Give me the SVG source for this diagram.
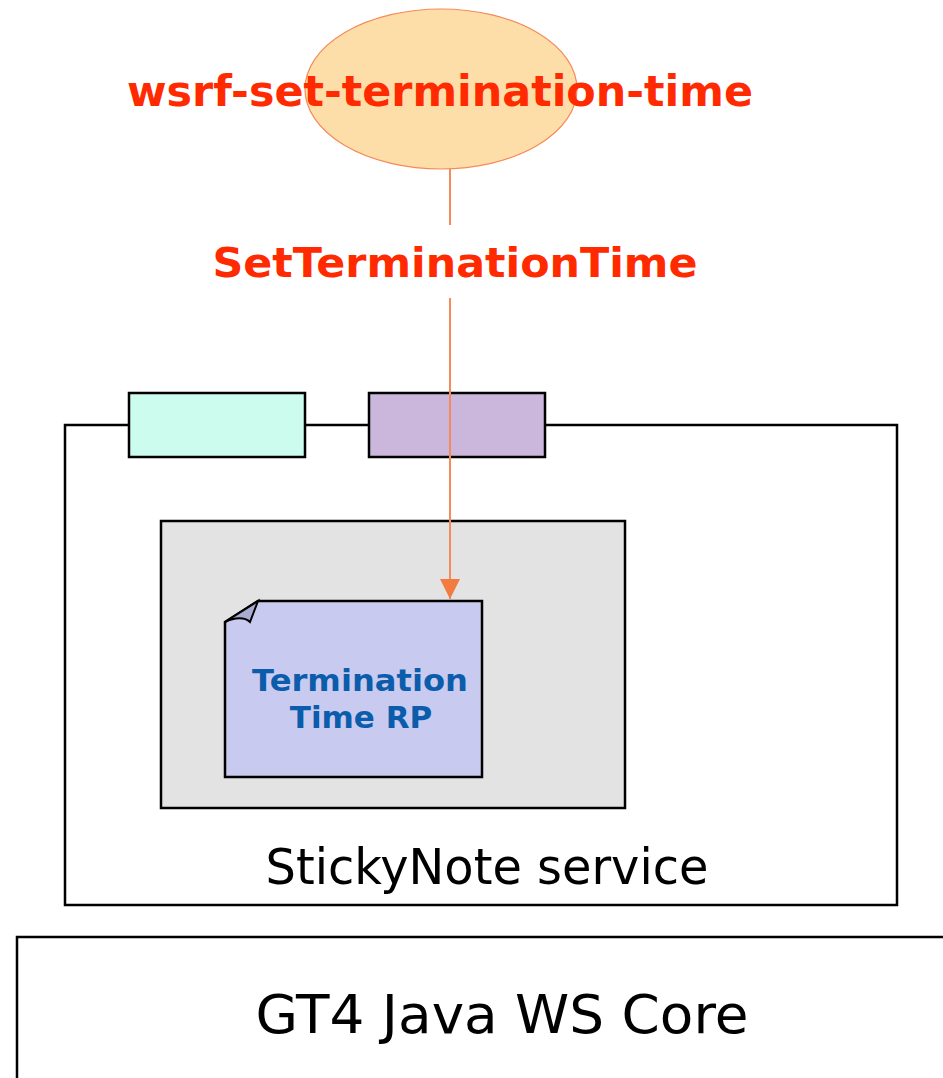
<svg xmlns="http://www.w3.org/2000/svg" width="943" height="1078" viewBox="0 0 943 1078">
<style>
.box{stroke:#000;stroke-width:2.5}
.red{font-family:"DejaVu Sans",Verdana,sans-serif;font-weight:bold;fill:#ff2a00;text-anchor:middle}
.blue{font-family:"DejaVu Sans",Verdana,sans-serif;font-weight:bold;fill:#0b5cab;text-anchor:middle;font-size:31px}
.lbl{font-family:"DejaVu Sans",Verdana,sans-serif;fill:#000;text-anchor:middle}
.conn{stroke:#f58a5a;stroke-width:2;fill:none}
</style>
<defs>
<marker id="arr" markerUnits="userSpaceOnUse" markerWidth="22" markerHeight="22" viewBox="0 0 22 22" refX="20" refY="11" orient="auto">
<path d="M0,1 L20,11 L0,21 Z" fill="#f47b3f"/>
</marker>
</defs>
<rect width="943" height="1078" fill="#fff"/>
<g id="core">
<rect class="box" x="17" y="937" width="940" height="160" fill="#fff"/>
<text class="lbl" x="502" y="1033" font-size="54" textLength="493" lengthAdjust="spacingAndGlyphs">GT4 Java WS Core</text>
</g>
<g id="service">
<rect class="box" x="65" y="425" width="832" height="480" fill="#fff"/>
<text class="lbl" x="487" y="884" font-size="49" textLength="443" lengthAdjust="spacingAndGlyphs">StickyNote service</text>
</g>
<g id="tab1">
<rect class="box" x="129" y="393" width="176" height="64" fill="#ccfcee"/>
</g>
<g id="tab2">
<rect class="box" x="369" y="393" width="176" height="64" fill="#cbb7db"/>
</g>
<g id="resource">
<rect class="box" x="161" y="521" width="464" height="287" fill="#e3e3e3"/>
</g>
<g id="rp">
<path class="box" d="M225,622 L258,601 L482,601 L482,777 L225,777 Z" fill="#c9caf0"/>
<path d="M225,622 C235,617 245,617 250,622 L258,601 Z" fill="#a9aad0" stroke="#000" stroke-width="2"/>
<text class="blue" x="360" y="691" textLength="216" lengthAdjust="spacingAndGlyphs">Termination</text>
<text class="blue" x="361" y="728">Time RP</text>
</g>
<g id="client">
<ellipse cx="441" cy="89" rx="136" ry="80" fill="#fddea8" stroke="#f58a5a" stroke-width="1.2"/>
<text class="red" x="440" y="106" font-size="42" textLength="626" lengthAdjust="spacingAndGlyphs">wsrf-set-termination-time</text>
</g>
<g id="connectors">
<line class="conn" x1="450" y1="169" x2="450" y2="225"/>
<line class="conn" x1="450" y1="298" x2="450" y2="599" marker-end="url(#arr)"/>
<text class="red" x="455" y="277" font-size="41" textLength="485" lengthAdjust="spacingAndGlyphs">SetTerminationTime</text>
</g>
</svg>
